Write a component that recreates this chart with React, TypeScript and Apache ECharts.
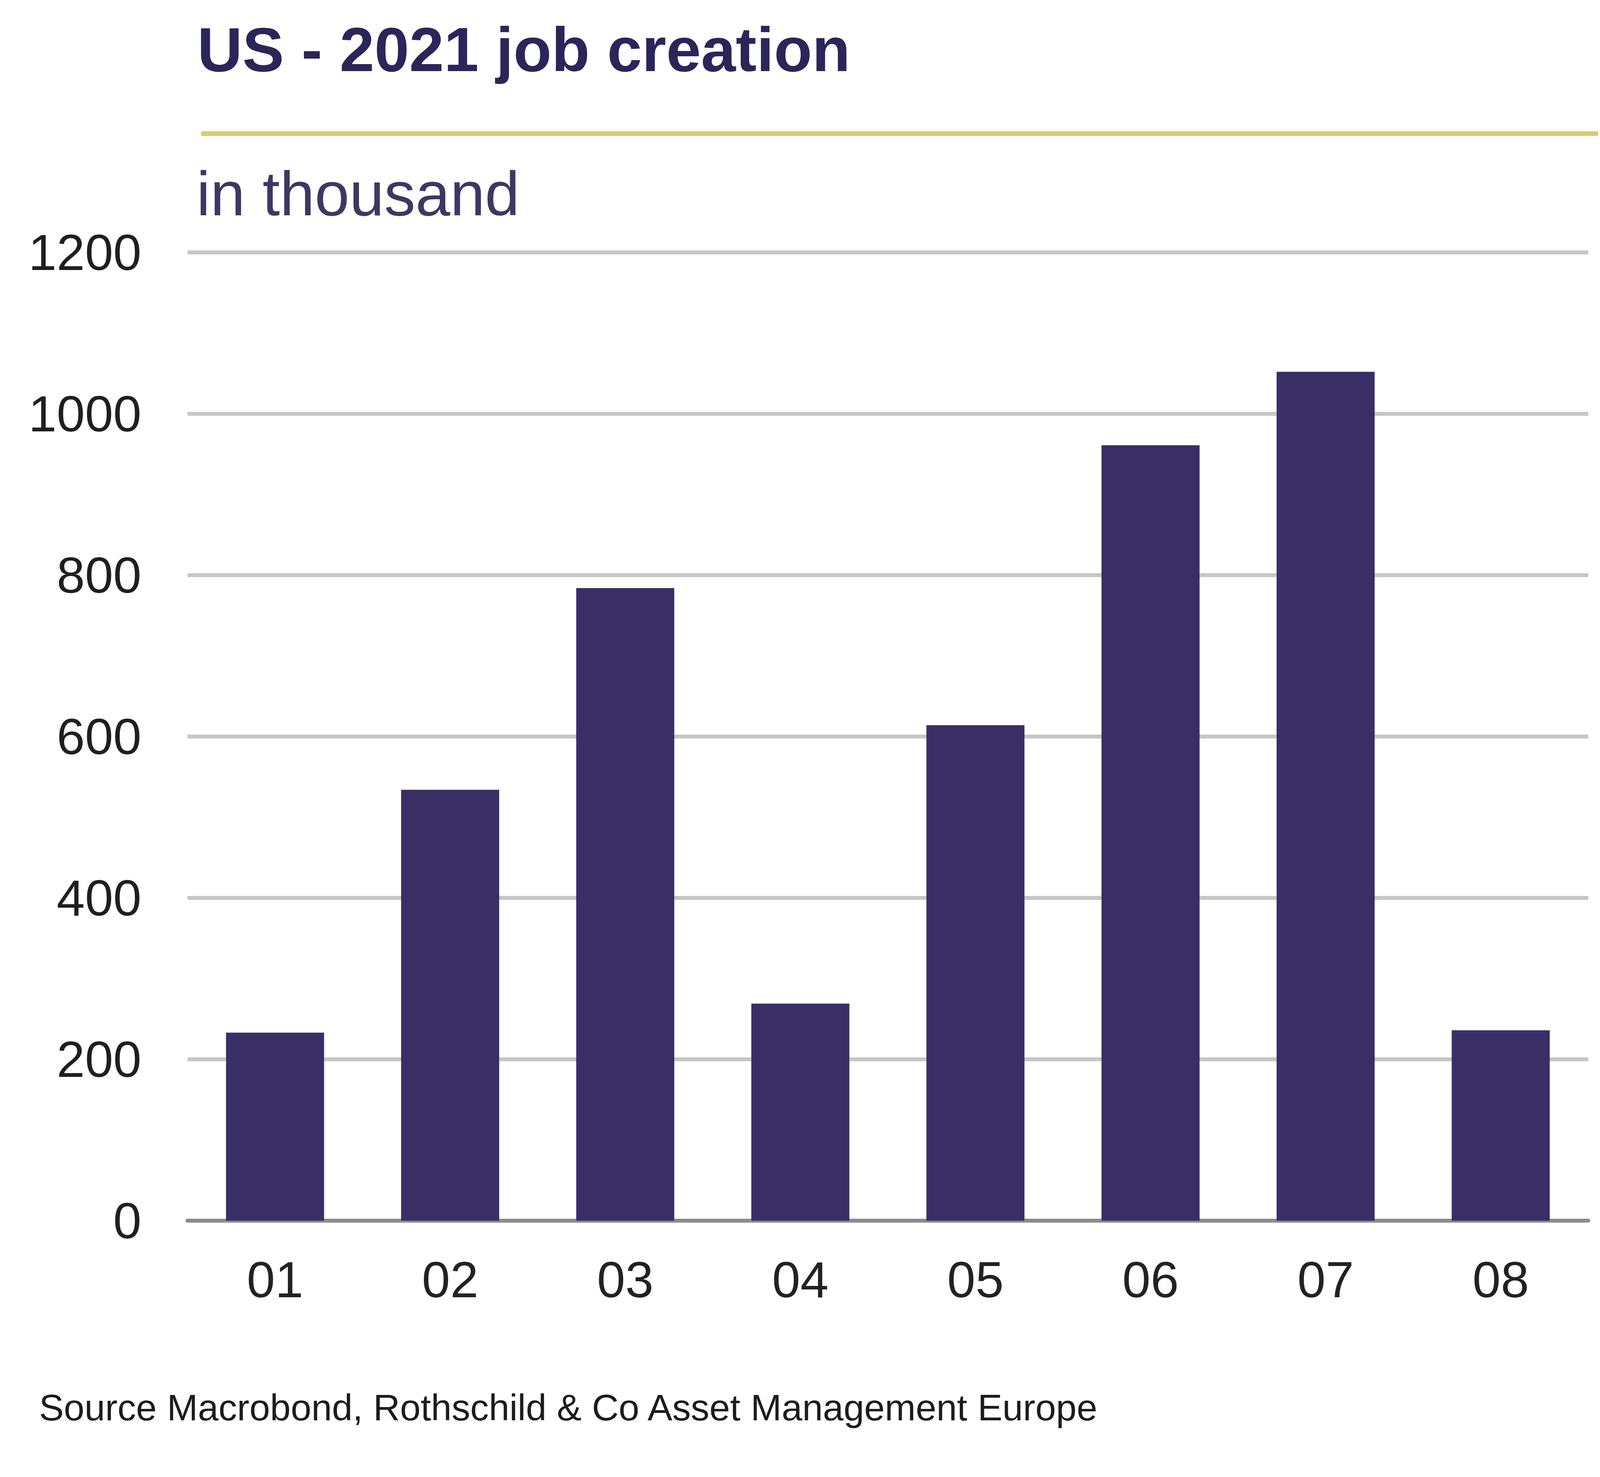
import * as echarts from "echarts";
import React, { useEffect, useRef } from "react";

const months = ["01", "02", "03", "04", "05", "06", "07", "08"];
const jobs = [233, 534, 784, 269, 614, 961, 1052, 236];
const yTicks = { min: 0, max: 1200, interval: 200 };

const titleText = "US - 2021 job creation";
const unitText = "in thousand";
const sourceText = "Source Macrobond, Rothschild & Co Asset Management Europe";

const font = "'Liberation Sans', Arial, sans-serif";

export default function App() {
  const chartRef = useRef<HTMLDivElement>(null);

  useEffect(() => {
    document.body.style.margin = "0";
    if (!chartRef.current) return;
    const chart = echarts.init(chartRef.current, undefined, { renderer: "svg" });

    const option = {
      animation: false,
      backgroundColor: "#ffffff",
      grid: { left: 480, right: 158, top: 646, bottom: 656, containLabel: false },
      xAxis: {
        type: "category",
        data: months,
        axisLine: { show: true, lineStyle: { color: "#8c8c8c", width: 10 } },
        axisTick: { show: false },
        axisLabel: {
          color: "#222222",
          fontSize: 130,
          fontFamily: font,
          margin: 86,
        },
      },
      yAxis: {
        type: "value",
        min: yTicks.min,
        max: yTicks.max,
        interval: yTicks.interval,
        axisLine: { show: false },
        axisTick: { show: false },
        splitLine: { lineStyle: { color: "#c6c6c6", width: 10 } },
        axisLabel: {
          color: "#1f1f1f",
          fontSize: 130,
          fontFamily: font,
          margin: 118,
          formatter: (v: number) => String(v),
        },
      },
      series: [
        {
          type: "bar",
          data: jobs,
          barWidth: "56%",
          itemStyle: { color: "#3a2e66" },
        },
      ],
      graphic: [
        {
          type: "text",
          x: 505,
          y: 126,
          style: {
            text: titleText,
            fontSize: 160,
            fontWeight: "bold",
            fontFamily: font,
            fill: "#2b2659",
            verticalAlign: "middle",
          },
        },
        {
          type: "line",
          shape: { x1: 515, y1: 342, x2: 4091, y2: 342 },
          style: { stroke: "#d9c977", lineWidth: 12 },
        },
        {
          type: "text",
          x: 503,
          y: 495,
          style: {
            text: unitText,
            fontSize: 160,
            fontFamily: font,
            fill: "#3d3862",
            verticalAlign: "middle",
          },
        },
        {
          type: "text",
          x: 100,
          y: 3602,
          style: {
            text: sourceText,
            fontSize: 95,
            fontFamily: font,
            fill: "#1c1c1c",
            verticalAlign: "middle",
          },
        },
      ],
    };

    chart.setOption(option);
    return () => {
      chart.dispose();
    };
  }, []);

  return <div ref={chartRef} style={{ width: "4224px", height: "3780px" }}></div>;
}
